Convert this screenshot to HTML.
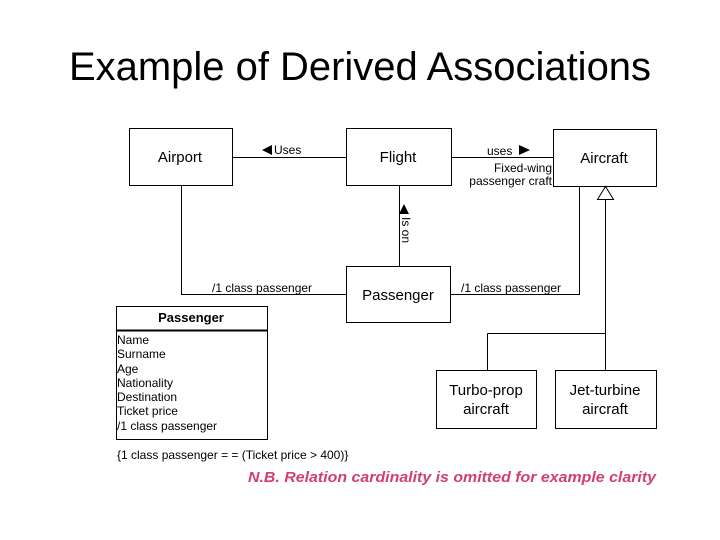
<!DOCTYPE html>
<html><head><meta charset="utf-8"><style>
body{margin:0;background:#fff;}
svg{display:block;font-family:"Liberation Sans",Arial,sans-serif;}
</style></head><body>
<svg width="720" height="540" viewBox="0 0 720 540" xmlns="http://www.w3.org/2000/svg">
<text x="360" y="80" font-size="40" text-anchor="middle" fill="#000" textLength="582" lengthAdjust="spacingAndGlyphs">Example of Derived Associations</text>
<g fill="none" stroke="#000" stroke-width="1">
<rect x="129.5" y="128.5" width="103" height="57"/>
<rect x="346.5" y="128.5" width="105" height="57"/>
<rect x="553.5" y="129.5" width="103" height="57"/>
<rect x="346.5" y="266.5" width="104" height="56"/>
<rect x="436.5" y="370.5" width="100" height="58"/>
<rect x="555.5" y="370.5" width="101" height="58"/>
<rect x="116.5" y="306.5" width="151" height="133"/>
<line x1="116" y1="330.5" x2="268" y2="330.5" stroke-width="2"/>
<line x1="232" y1="157.5" x2="346" y2="157.5"/>
<line x1="451" y1="157.5" x2="553" y2="157.5"/>
<line x1="181.5" y1="185" x2="181.5" y2="294.5"/>
<line x1="181" y1="294.5" x2="346" y2="294.5"/>
<line x1="399.5" y1="185" x2="399.5" y2="266"/>
<line x1="451" y1="294.5" x2="579.5" y2="294.5"/>
<line x1="579.5" y1="186" x2="579.5" y2="295"/>
<polygon points="605.5,186.5 597.5,199.5 613.5,199.5"/>
<line x1="605.5" y1="199.5" x2="605.5" y2="370"/>
<line x1="487.5" y1="333.5" x2="605.5" y2="333.5"/>
<line x1="487.5" y1="333.5" x2="487.5" y2="370"/>
</g>
<g fill="#000">
<polygon points="262,150 272,145 272,155"/>
<polygon points="530,150 519,145 519,155"/>
<polygon points="404,204 399,214 409,214"/>
</g>
<g font-size="15" fill="#000" text-anchor="middle">
<text x="180" y="162">Airport</text>
<text x="398" y="162">Flight</text>
<text x="604" y="163">Aircraft</text>
<text x="398" y="300">Passenger</text>
<text x="486" y="395">Turbo-prop</text>
<text x="486" y="414">aircraft</text>
<text x="605" y="395">Jet-turbine</text>
<text x="605" y="414">aircraft</text>
</g>
<g font-size="12" fill="#000">
<text x="274" y="154">Uses</text>
<text x="487" y="155">uses</text>
<text x="552" y="172" text-anchor="end">Fixed-wing</text>
<text x="552" y="185" text-anchor="end">passenger craft</text>
<text x="212" y="292">/1 class passenger</text>
<text x="461" y="292">/1 class passenger</text>
<text transform="translate(402,217) rotate(90)">Is on</text>
<text x="191" y="322" text-anchor="middle" font-weight="bold" font-size="13">Passenger</text>
<text x="117" y="344">Name</text>
<text x="117" y="358">Surname</text>
<text x="117" y="373">Age</text>
<text x="117" y="387">Nationality</text>
<text x="117" y="401">Destination</text>
<text x="117" y="415">Ticket price</text>
<text x="117" y="430">/1 class passenger</text>
<text x="117" y="459">{1 class passenger = = (Ticket price &gt; 400)}</text>
</g>
<text x="656" y="482" text-anchor="end" font-size="15" font-weight="bold" font-style="italic" fill="#d1406f" textLength="408" lengthAdjust="spacingAndGlyphs">N.B. Relation cardinality is omitted for example clarity</text>
</svg>
</body></html>
